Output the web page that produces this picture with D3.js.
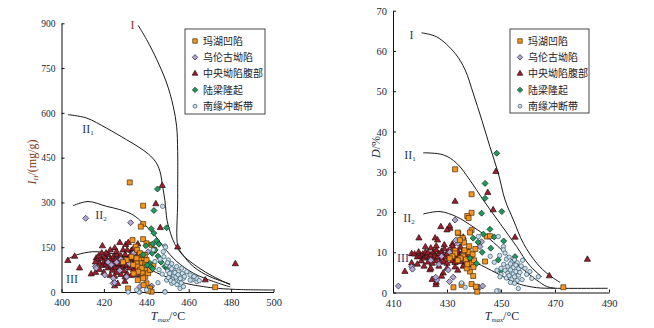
<!DOCTYPE html>
<html><head><meta charset="utf-8">
<script src="https://cdn.jsdelivr.net/npm/d3@7"></script>
<style>body{margin:0;background:#fff}svg{display:block}</style>
</head><body>
<svg id="c" width="654" height="328"></svg>
<script>
// ---------- DATA ----------
const seriesNames = ["玛湖凹陷","乌伦古坳陷","中央坳陷腹部","陆梁隆起","南缘冲断带"];
const xTicksL = [400,420,440,460,480,500];
const yTicksL = [0,150,300,450,600,750,900];
const xTicksR = [410,430,450,470,490];
const yTicksR = [0,10,20,30,40,50,60,70];

// Left panel: [Tmax, IH]
const mahuL = [[432.2,367],[438.5,289],[438.5,228],[437.4,219],[438.5,177],[433.5,174],[435,152],[435.7,141],[440.1,163],[442.5,158],[443.7,141],[437,130],[437.8,118],[438.5,113],[439.3,124],[436.6,107],[437.8,96],[439.5,96],[440.1,107],[435.4,96],[436,85],[437,74],[439.3,85],[440.1,74],[438.2,63],[439.5,51],[440.9,63],[441.7,74],[443.3,91],[433,118],[435.4,113],[433.8,91],[437.8,80],[436.2,68],[438.5,46],[440.1,29],[438.7,23],[431.4,12],[441.7,12],[442.5,1],[440.9,4],[430.7,107],[429,100],[472.5,16],[434,62],[436,40]];
const wulunguL = [[411.4,247],[432.6,232],[416,85],[416.4,80],[420.4,57],[423.5,91],[424.3,29],[424.4,46],[425.1,31],[427.5,72],[430.7,51],[433.8,124],[435.4,63],[437,18],[440.9,135],[440.9,96],[442,16],[442.5,20],[432,95],[428,110],[426,100],[434,130],[422,100]];
const centralL = [[403,105],[406.2,119],[408.5,80],[414,60],[416.1,65],[416.4,113],[419.3,154],[425.1,147],[427.5,165],[430.3,158],[433,139],[425.1,20],[429.9,35],[434.6,60],[447.5,356],[444.5,295],[446.6,215],[454.8,150],[482,94],[467.8,40],[431.5,165],[426.5,28],[436,160],
 [417,108],[418,95],[419,112],[419.5,88],[420,100],[420.5,118],[421,92],[421.5,105],[422,80],[422,125],[422.5,98],[423,110],[423.5,86],[424,102],[424,72],[424.5,118],[425,95],[425.5,108],[425.5,80],[426,125],[426,65],[426.5,100],[427,90],[427,112],[427.5,78],[428,104],[428,120],[428.5,95],[429,85],[429,110],[429.5,70],[430,100],[430,125],[430.5,88],[431,108],[431,60],[431.5,95],[432,115],[432,80],[432.5,100],[433,90],[433,128],[433.5,105],[434,75],[434,115],[434.5,95],[435,108],[435,85],[435.5,120],[436,100],[436.5,70],[437,92],[437.5,110],[438,85],[418,75],[420,65],[423,55],[425,52],[428,58],[430,50],[433,55],[436,58],[426,135],[429,140],[423,140],[421,130],[416,100],[417.5,120],[419,130],[431,140],[434,145],[437,125],[427,95],[429,102],[431,92],[433,98],[435,103]];
const luliangL = [[445.3,345],[443.6,273],[442.3,212],[443.6,197],[449.6,215],[444.9,172],[443,161],[439.8,155],[444.2,141],[441.7,96],[442,85],[448.8,85],[449.9,80],[440.5,90],[447,100],[442.8,130],[445.5,120],[438.5,125],[446,160],[443,78]];
const nanyuanL = [[447.7,287],[448.8,154],[449.1,150],[448,135],[448.3,118],[443.3,141],[444.1,102],[450.4,107],[449.6,91],[451.2,85],[452.7,74],[454.3,85],[455.1,68],[456.7,80],[451.2,57],[452.7,46],[454.3,40],[449.6,40],[452,29],[455.6,35],[457.5,46],[460.7,57],[461.5,40],[463.8,35],[463.8,46],[459.1,68],[460.7,40],[455.9,12],[448.8,1],[445.5,31],[437,0],[436.5,0],[431.4,0],[435.4,7],[440.1,7],[448.8,0],[450,70],[451,62],[452,78],[453,55],[453.5,65],[454,50],[455,58],[456,45],[457,62],[458,52],[450.5,48],[451.5,38],[453,33],[454.5,25],[456.5,30],[452,95],[450,98],[446.5,110],[447.5,60],[446,75],[462.5,52],[465,38],[457.5,18]];

// Right panel: [Tmax, D%]
const mahuR = [[433,30.6],[439.1,24.4],[439.1,19.8],[437.5,19],[438,18.5],[439.1,15.5],[434.2,14.7],[435.8,13.5],[436.3,12.4],[444.7,13.9],[445.9,14],[433,10.4],[439.1,7.3],[438.5,5.2],[439.7,4.1],[439.1,2.1],[432.4,1.3],[441,1.3],[441.2,0.2],[444.1,7.7],[473.1,1.3],[437.3,6],[434,14.9],[434.8,13],[438.5,14.9],[433,9.7],[436,9],[437,8.2],[438,10],[438.8,8.8],[439.5,9.5],[440,8],[436.5,10.5],[435,8.5],[437.5,7],[438.2,11.5],[440.5,10.8],[439.8,6.3],[435.4,1.9],[440.7,1.45],[434,8],[432,9],[431,8.5]];
const wulunguR = [[412,1.6],[433,18],[434,12.2],[442.2,11.4],[442.8,12.6],[416.9,6.4],[417.2,5.8],[426.2,3.1],[425.8,3.8],[430.5,5.6],[430.9,2.7],[442,1.3],[443.2,1.6],[432.3,3.8],[433.3,13],[424,8],[428,9],[431,10],[436,9.5],[427,7]];
const centralR = [[419.6,13.5],[427.7,16.3],[431.1,15.9],[433,22.6],[425.6,13.5],[426.5,13],[448.1,30],[445.1,24.8],[447.1,20.5],[455.2,13.7],[467.9,4.1],[482,8.2],[436,13.7],[414.4,5.2],[416.9,7.3],[416.9,9.6],[425.9,1.9],[421,8.9],[423.7,5.6],[428.6,4.8],[424,11],[431,16.5],[426,2.5],[430,15.5],[432,12],
 [418,9.5],[419,8.8],[419.5,10],[420,9],[420.5,7.8],[421,9.5],[421.5,8.5],[422,10],[422.5,9],[423,7.5],[423,9.8],[423.5,8.7],[424,9.3],[424.5,7.2],[425,10],[425,8.4],[425.5,9],[426,7.8],[426,10.5],[426.5,8.8],[427,9.6],[427.5,7.5],[428,8.5],[428,10.2],[428.5,9.2],[429,7.6],[429,10.8],[429.5,8.8],[430,9.5],[430,7.2],[430.5,10.3],[431,8.6],[431.5,9.5],[432,7.8],[432,10.6],[432.5,8.9],[433,9.8],[433,7.4],[433.5,8.5],[434,10.2],[434.5,9],[435,7.6],[435.5,9.8],[436,8.4],[436.5,7],[437,9.2],[437.5,10.6],[438,8],[438.5,6.8],[421.5,6.5],[424,6],[427,6.5],[430,6],[433,6.3],[419,7],[422,11.3],[426,11.5],[429,11.8],[432,11.5],[435,11.2],[434,5.5],[436,6.5],[428,4],[424.5,3.2]];
const luliangR = [[448.4,34.6],[444.1,27.1],[444.1,23.4],[442.8,19.7],[450.3,20.1],[445.9,15.7],[443.5,14.5],[439.7,13.5],[446.2,11],[455.2,8.9],[449,8.1],[449.9,5.4],[441.5,12.5],[443,10],[447.5,13.8],[438.5,8.5],[441,7.2],[451,12.8]];
const nanyuanR = [[441.6,13.9],[449,13.9],[450.9,11.4],[450.9,10.6],[449.5,9.2],[451.5,9.8],[452,8.3],[453,8.8],[454,7.6],[455,8.1],[456,7.4],[451,7],[452.5,6.5],[453.5,7.1],[454.5,6.2],[455.5,6.8],[456.5,5.9],[457.5,6.6],[451.5,5.5],[452.5,4.8],[453.5,5.6],[454.5,4.6],[455.5,5.2],[456.5,4.3],[457,5],[452,3.6],[453,4.2],[454,3.3],[455,3.9],[456,3],[453.5,2.5],[455,2.3],[450,4.5],[449.6,3.9],[448.5,5.5],[458.9,6],[460.7,5.2],[461.4,3.5],[463.8,3.9],[456.4,1],[449,0.4],[448.4,0.4],[435.4,2.4],[436.7,1.3],[446,9],[447.5,7.5],[458,8],[459.5,4.5],[450,6],[457.8,3.2]];

// Boundary curves
const curveI_L   = [[436.2,893],[440.1,846],[444.9,779],[449.6,700],[452.7,622],[454.3,555],[454.8,470],[454.8,309],[454.9,152],[456.9,128],[462.2,85],[470.1,51],[479.6,27]];
const curveII1_L = [[403,594],[411.7,583],[421.2,549],[430.7,510],[436.5,485],[441,462],[444.5,435],[446.4,405],[447.8,350],[448.8,305],[449.8,240],[451.5,195],[453.5,160],[457,125],[462,95],[470,58],[479.6,24]];
const curveII2_L = [[405.4,289],[412.5,303],[421.2,287],[427.5,276],[433.8,258],[438.5,230],[443.3,197],[448,152],[454.4,102],[462.2,63],[471.7,35],[479.6,17]];
const curveIII_L = [[402.2,107],[407,124],[414.8,135],[419.6,133],[425,127],[430.7,118],[436,98],[440.1,84],[443.3,70],[446.4,60],[451.2,46],[459.1,28],[467,18],[474,12],[485,8],[500,6.7]];
const curveI_R   = [[420.6,64.5],[426.2,63.5],[433,59.4],[436.7,55.3],[439.7,49.5],[442.9,42.8],[445.9,36.2],[449,29.6],[451.5,23],[454.6,18],[458.3,12.2],[463.2,7.3],[467.5,4.5],[471.9,2.5]];
const curveII1_R = [[421.2,34.7],[428.6,34.2],[433.6,32.1],[438.5,27.9],[443.4,23],[449.6,17.2],[455.8,11.4],[460.5,6.8],[465.1,3.9]];
const curveII2_R = [[421.2,19.5],[427.4,20.1],[433.6,18.8],[439.7,16.3],[444.7,13.9],[449.6,11],[453.5,8.5],[457,6.4],[463.2,3.1],[466.9,1.5],[470,1.05]];
const curveIII_R = [[416,9.2],[425,9.3],[432,9.2],[436,8.6],[441,7.3],[448.4,4.8],[455.8,2.3],[463.2,1.2],[470,1.05],[489.5,1.05]];

// ---------- STYLE ----------
const styles = [
  {type:"square",  fill:"#f7941d", stroke:"#4a3010"},
  {type:"diamond", fill:"#b3a6d6", stroke:"#2a2a3a"},
  {type:"triangle",fill:"#a41c2c", stroke:"#1a1010"},
  {type:"diamond", fill:"#1f9a5e", stroke:"#103020"},
  {type:"circle",  fill:"#c9e0ec", stroke:"#3a5566"}
];
const svg = d3.select("#c");
svg.append("rect").attr("width",654).attr("height",328).attr("fill","#fff");

function symPath(type, s){
  if(type==="square") return d3.symbol(d3.symbolSquare, 25*s)();
  if(type==="diamond") return d3.symbol(d3.symbolSquare, 18*s)();
  if(type==="triangle") return d3.symbol(d3.symbolTriangle, 17*s)();
  return d3.symbol(d3.symbolCircle, 15*s)();
}
function drawMarkers(g, data, st, x, y){
  g.append("g").selectAll("path").data(data).join("path")
    .attr("d", symPath(st.type,1))
    .attr("transform", d => `translate(${x(d[0])},${y(d[1])})` + (st.type==="diamond"?" rotate(45)":""))
    .attr("fill", st.fill).attr("stroke", st.stroke).attr("stroke-width",0.7);
}

function panel(cfg){
  const g = svg.append("g");
  const x = d3.scaleLinear().domain(cfg.xd).range(cfg.xr);
  const y = d3.scaleLinear().domain(cfg.yd).range(cfg.yr);
  const ax = g.append("g").attr("transform",`translate(0,${cfg.yr[0]})`)
    .call(d3.axisBottom(x).tickValues(cfg.xt).tickSizeInner(-3).tickSizeOuter(0).tickPadding(7).tickFormat(d3.format("d")));
  const ay = g.append("g").attr("transform",`translate(${cfg.xr[0]},0)`)
    .call(d3.axisLeft(y).tickValues(cfg.yt).tickSizeInner(-3).tickSizeOuter(0).tickPadding(6).tickFormat(d3.format("d")));
  [ax,ay].forEach(a=>{
    a.selectAll("path,line").attr("stroke","#111").attr("stroke-width",1);
    a.selectAll("text").attr("font-family","Liberation Serif").attr("fill","#1a1f3a");
  });
  ax.selectAll("text").attr("font-size",10.5);
  ay.selectAll("text").attr("font-size",cfg.yfs).attr("dy","0.34em");

  const line = d3.line().x(d=>x(d[0])).y(d=>y(d[1])).curve(d3.curveCatmullRom.alpha(0.5));
  cfg.curves.forEach(c=>{
    g.append("path").attr("d",line(c)).attr("fill","none").attr("stroke","#1a1a1a").attr("stroke-width",1);
  });
  const order = [2,1,0,3,4];
  order.forEach(i=>drawMarkers(g, cfg.series[i], styles[i], x, y));

  cfg.labels.forEach(l=>{
    const t = g.append("text").attr("x",l.x).attr("y",l.y).attr("text-anchor","middle")
      .attr("font-family","Liberation Serif").attr("font-size",12).attr("fill",l.c);
    t.append("tspan").text(l.t);
    if(l.s) t.append("tspan").attr("font-size",7).attr("dy",2).text(l.s);
  });

  const lg = g.append("g");
  lg.append("rect").attr("x",cfg.lg[0]).attr("y",cfg.lg[1]).attr("width",cfg.lg[2]).attr("height",cfg.lg[3])
    .attr("fill","#fff").attr("stroke","#333").attr("stroke-width",0.9);
  seriesNames.forEach((n,i)=>{
    const yy = cfg.lg[1]+12+i*16.3;
    const st = styles[i];
    lg.append("path").attr("d",symPath(st.type,0.8))
      .attr("transform",`translate(${cfg.lg[0]+10},${yy})`+(st.type==="diamond"?" rotate(45)":""))
      .attr("fill",st.fill).attr("stroke",st.stroke).attr("stroke-width",0.7);
    lg.append("text").attr("x",cfg.lg[0]+18).attr("y",yy).attr("dy","0.36em")
      .attr("font-family","Noto Sans CJK SC").attr("font-size",10).attr("fill","#1a1a2a").text(n);
  });

  const xl = g.append("text").attr("x",cfg.xlab[0]).attr("y",cfg.xlab[1]).attr("text-anchor","middle")
    .attr("font-family","Liberation Serif").attr("font-size",12).attr("fill","#1a1f3a");
  xl.append("tspan").attr("font-style","italic").text("T");
  xl.append("tspan").attr("font-size",7).attr("dy",2).attr("font-style","italic").text("max");
  xl.append("tspan").attr("dy",-2).text("/°C");
  return {x,y,g};
}

panel({
  xd:[400,500], xr:[61.5,273.5], yd:[0,900], yr:[292,23.3],
  xt:xTicksL, yt:yTicksL, yfs:9.5,
  series:[mahuL,wulunguL,centralL,luliangL,nanyuanL],
  curves:[curveI_L,curveII1_L,curveII2_L,curveIII_L],
  labels:[{x:132.5,y:29,t:"I",c:"#8a3326"},{x:88,y:133,t:"II",s:"1",c:"#1e3560"},
          {x:101,y:219,t:"II",s:"2",c:"#2a3a5a"},{x:72,y:283,t:"III",c:"#1e3d78"}],
  lg:[185,29,80,85],
  xlab:[168,320]
});
const yl = svg.append("text").attr("transform","translate(36,162) rotate(-90)").attr("text-anchor","middle")
  .attr("font-family","Liberation Serif").attr("font-size",12).attr("fill","#8a4016");
yl.append("tspan").attr("font-style","italic").text("I");
yl.append("tspan").attr("font-size",7).attr("dy",2).attr("font-style","italic").text("H");
yl.append("tspan").attr("dy",-2).text("/(mg/g)");

panel({
  xd:[410,490], xr:[393,609], yd:[0,70], yr:[292.5,10.7],
  xt:xTicksR, yt:yTicksR, yfs:10.5,
  series:[mahuR,wulunguR,centralR,luliangR,nanyuanR],
  curves:[curveI_R,curveII1_R,curveII2_R,curveIII_R],
  labels:[{x:411.5,y:39,t:"I",c:"#1e3d78"},{x:410,y:159,t:"II",s:"1",c:"#1e3560"},
          {x:409,y:222,t:"II",s:"2",c:"#2a3a5a"},{x:403,y:262,t:"III",c:"#1e3d78"}],
  lg:[510,29,79,84],
  xlab:[502,320]
});
const yr = svg.append("text").attr("transform","translate(380,147) rotate(-90)").attr("text-anchor","middle")
  .attr("font-family","Liberation Serif").attr("font-size",12).attr("fill","#1a1f3a");
yr.append("tspan").attr("font-style","italic").text("D");
yr.append("tspan").text("/%");
</script>
</body></html>
